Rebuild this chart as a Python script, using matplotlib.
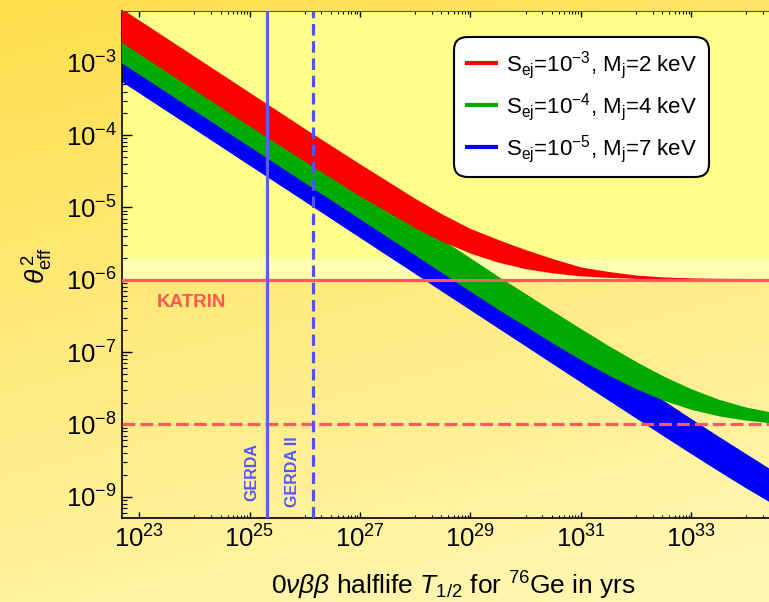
import numpy as np
import matplotlib
matplotlib.use('Agg')
import matplotlib.pyplot as plt
from matplotlib.ticker import FixedLocator, LogFormatterSciNotation, NullFormatter
from matplotlib.lines import Line2D

plt.rcParams['font.family'] = ['Liberation Sans', 'DejaVu Sans']
plt.rcParams['mathtext.fontset'] = 'custom'
plt.rcParams['mathtext.rm'] = 'Liberation Sans'
plt.rcParams['mathtext.it'] = 'Liberation Sans:italic'
plt.rcParams['mathtext.bf'] = 'Liberation Sans:bold'

# ---------------- data ----------------
halflife = [3.16e22, 1e23, 1e24, 1e25, 1e26, 1e27, 1e28, 3.16e28, 1e29, 3.16e29,
            1e30, 3.16e30, 1e31, 3.16e31, 1e32, 3.16e32, 1e33, 3.16e33, 1e34, 3.16e34]

red_upper = [6.92e-3, 3.89e-3, 1.23e-3, 3.89e-4, 1.23e-4, 3.99e-5, 1.33e-5, 8.0e-6, 5.1e-6, 3.6e-6,
             2.6e-6, 1.95e-6, 1.5e-6, 1.3e-6, 1.16e-6, 1.09e-6, 1.06e-6, 1.045e-6, 1.04e-6, 1.035e-6]
red_lower = [2.37e-3, 1.33e-3, 4.22e-4, 1.33e-4, 4.32e-5, 1.43e-5, 5.22e-6, 3.37e-6, 2.33e-6, 1.75e-6,
             1.42e-6, 1.24e-6, 1.13e-6, 1.075e-6, 1.042e-6, 1.024e-6, 1.013e-6, 1.008e-6, 1.004e-6, 1.002e-6]

green_upper = [3.55e-3, 2.0e-3, 6.31e-4, 2.0e-4, 6.31e-5, 2.0e-5, 6.31e-6, 3.55e-6, 2.0e-6, 1.12e-6,
               6.42e-7, 3.66e-7, 2.11e-7, 1.23e-7, 7.4e-8, 4.65e-8, 3.1e-8, 2.22e-8, 1.73e-8, 1.455e-8]
green_lower = [1.23e-3, 6.92e-4, 2.19e-4, 6.92e-5, 2.19e-5, 6.92e-6, 2.19e-6, 1.23e-6, 6.93e-7, 3.9e-7,
               2.28e-7, 1.32e-7, 7.84e-8, 4.81e-8, 3.11e-8, 2.15e-8, 1.61e-8, 1.31e-8, 1.14e-8, 1.04e-8]

blue_upper = [2.14e-3, 1.2e-3, 3.8e-4, 1.2e-4, 3.8e-5, 1.2e-5, 3.8e-6, 2.14e-6, 1.2e-6, 6.76e-7,
              3.8e-7, 2.14e-7, 1.2e-7, 6.76e-8, 3.8e-8, 2.14e-8, 1.2e-8, 6.8e-9, 3.9e-9, 2.24e-9]
blue_lower = [6.79e-4, 3.82e-4, 1.21e-4, 3.82e-5, 1.21e-5, 3.82e-6, 1.21e-6, 6.79e-7, 3.82e-7, 2.15e-7,
              1.21e-7, 6.8e-8, 3.83e-8, 2.16e-8, 1.22e-8, 6.9e-9, 3.92e-9, 2.25e-9, 1.31e-9, 7.8e-10]

band_labels = [r'S$_{\rm ej}$=10$^{-3}$, M$_{\rm j}$=2 keV',
               r'S$_{\rm ej}$=10$^{-4}$, M$_{\rm j}$=4 keV',
               r'S$_{\rm ej}$=10$^{-5}$, M$_{\rm j}$=7 keV']
band_colors = ['#FF0000', '#00AA00', '#0000FF']

katrin_limit = 1e-6
katrin_band_top = 2e-6
future_limit = 1e-8
gerda_limit = 2.06e25
gerda2_limit = 1.44e26

x_major = [1e23, 1e25, 1e27, 1e29, 1e31, 1e33]
x_minor = [k * 10.0 ** e for e in (24, 26, 28, 30, 32, 34) for k in range(1, 10)]
y_major = [1e-9, 1e-8, 1e-7, 1e-6, 1e-5, 1e-4, 1e-3]
y_minor = [k * 10.0 ** e for e in range(-10, -2) for k in range(2, 10)]

# ---------------- figure ----------------
W, H = 769, 602
fig = plt.figure(figsize=(W / 100, H / 100), dpi=100)

# background gradient
bg = fig.add_axes([0, 0, 1, 1], zorder=-10)
yy, xx = np.mgrid[0:1:200j, 0:1:200j]
t = np.clip(0.8 * yy + 0.25 * xx, 0, 1)
c0 = np.array([255, 222, 76]) / 255.0
c1 = np.array([255, 247, 178]) / 255.0
img = c0[None, None, :] * (1 - t[..., None]) + c1[None, None, :] * t[..., None]
bg.imshow(img, aspect='auto', extent=[0, 1, 1, 0], interpolation='bilinear')
bg.set_xlim(0, 1)
bg.set_ylim(1, 0)
bg.axis('off')

ax = fig.add_axes([122 / W, 1 - 518 / H, 1 - 122 / W, (518 - 11) / H])
ax.set_facecolor('none')
ax.set_xscale('log')
ax.set_yscale('log')
ax.set_xlim(4.9e22, 2.57e34)
ax.set_ylim(5.07e-10, 5.19e-3)

ax.axhspan(katrin_band_top, 1, color='#FFFF8A', lw=0, zorder=0)
ax.axhspan(katrin_limit, katrin_band_top, color='#FFFFB0', lw=0, zorder=0)

ax.fill_between(halflife, blue_lower, blue_upper, color=band_colors[2], lw=0, zorder=2)
ax.fill_between(halflife, green_lower, green_upper, color=band_colors[1], lw=0, zorder=3)
ax.fill_between(halflife, red_lower, red_upper, color=band_colors[0], lw=0, zorder=4)

ax.axhline(katrin_limit, color='#FF5A5A', lw=2.3, zorder=5)
ax.axhline(future_limit, color='#FF5A5A', lw=2.3, ls=(0, (4, 1.6)), zorder=5)
ax.axvline(gerda_limit, color='#5C5CFA', lw=2.3, zorder=5)
ax.axvline(gerda2_limit, color='#5252FA', lw=2.3, ls=(0, (3.6, 1.8)), zorder=5)

ax.text(2.1e23, 4.85e-7, 'KATRIN', color='#FF5555', fontsize=13.5, fontweight='bold',
        ha='left', va='center', zorder=6)
ax.text(1.1e25, 2.2e-9, 'GERDA', color='#5555FF', fontsize=11.5, fontweight='bold',
        rotation=90, ha='center', va='center', zorder=6)
ax.text(6.0e25, 2.2e-9, 'GERDA II', color='#5555FF', fontsize=11.5, fontweight='bold',
        rotation=90, ha='center', va='center', zorder=6)

# ticks
ax.xaxis.set_major_locator(FixedLocator(x_major))
ax.xaxis.set_minor_locator(FixedLocator(x_minor))
ax.xaxis.set_major_formatter(LogFormatterSciNotation())
ax.xaxis.set_minor_formatter(NullFormatter())
ax.yaxis.set_major_locator(FixedLocator(y_major))
ax.yaxis.set_minor_locator(FixedLocator(y_minor))
ax.yaxis.set_major_formatter(LogFormatterSciNotation())
ax.yaxis.set_minor_formatter(NullFormatter())

ax.tick_params(axis='both', which='both', direction='in', top=True, right=False,
               colors='black', labelsize=18.5)
ax.tick_params(axis='x', which='major', length=4.5, width=1, pad=5)
ax.tick_params(axis='x', which='minor', length=2.2, width=0.8)
ax.tick_params(axis='y', which='major', length=7, width=1, pad=4)
ax.tick_params(axis='y', which='minor', length=3.6, width=0.8)

ax.spines['right'].set_visible(False)
ax.spines['top'].set_color('#555555')
ax.spines['top'].set_linewidth(0.8)
for s in ('left', 'bottom'):
    ax.spines[s].set_linewidth(1.2)
    ax.spines[s].set_color('black')

handles = [Line2D([0], [0], color=c, lw=3) for c in band_colors]
leg = ax.legend(handles, band_labels, loc='upper right', bbox_to_anchor=(0.907, 0.949),
                borderaxespad=0, fontsize=16, frameon=True, fancybox=True, framealpha=1,
                facecolor='white', edgecolor='black', handlelength=1.3, handletextpad=0.45,
                labelspacing=0.45, borderpad=0.55)
leg.get_frame().set_linewidth(1.5)
leg.get_frame().set_boxstyle('round,pad=0.0,rounding_size=0.6')
leg.set_zorder(10)

fig.text(453 / W, 1 - 586 / H, r'0$\nu\beta\beta$ halflife $T_{1/2}$ for $^{76}$Ge in yrs',
         ha='center', va='center', fontsize=19)
fig.text(38 / W, 1 - 266 / H, r'$\theta_{\rm eff}^{\,2}$', rotation=90,
         ha='center', va='center', fontsize=19)

fig.savefig('out.png', dpi=100)
